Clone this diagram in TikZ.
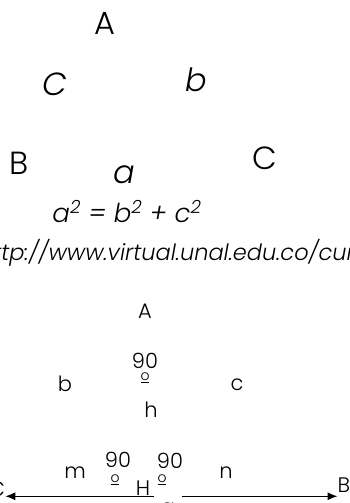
\documentclass[tikz,border=0pt]{standalone}
\usepackage{fontspec}
\setmainfont{Poppins}[UprightFont=* Light, ItalicFont=* Light Italic]
\usetikzlibrary{arrows.meta}
\tikzset{
  big/.style={font=\fontsize{32}{34}\selectfont, inner sep=0pt},
  bigit/.style={font=\fontsize{32}{34}\selectfont\itshape, inner sep=0pt},
  small/.style={font=\fontsize{21}{23}\selectfont, inner sep=0pt},
  grado/.style={font=\fontsize{14}{14}\selectfont, inner sep=0pt},
  arr/.style={-{Latex[length=10pt,width=8pt]}, line width=1.2pt}
}
\newcommand{\grad}{\underline{o}}
\begin{document}
\begin{tikzpicture}[x=1pt,y=-1pt]
\useasboundingbox (0,0) rectangle (349,503);
% triangulo de arriba
\node[big] (At) at (105,23){A};
\node[bigit] (Ct) at (55,84){C};
\node[bigit] (bt) at (196,80){b};
\node[big] (Bt) at (19,163){B};
\node[bigit] (at) at (124,175){a};
\node[big] (Cr) at (265,158){C};
\node[font=\fontsize{26}{28}\selectfont\itshape, inner sep=0pt] (eq) at (127,212){a\textsuperscript{2} = b\textsuperscript{2} + c\textsuperscript{2}};
\node[font=\fontsize{22.5}{26}\selectfont\itshape, inner sep=0pt, anchor=east] (url) at (355,253){http://www.virtual.unal.edu.co/cur};
% triangulo de abajo
\node[small] (Ab) at (145,311){A};
\node[small] (n1) at (145,361){90};
\node[grado] (o1) at (145,378){\grad};
\node[small] (bb) at (65,384){b};
\node[small] (cb) at (237,385){c};
\node[small] (hb) at (151,410){h};
\node[small] (mb) at (75,473){m};
\node[small] (n2) at (118,460){90};
\node[grado] (o2) at (115,480){\grad};
\node[small] (Hb) at (143,488){H};
\node[small] (n3) at (170,461){90};
\node[grado] (o3) at (162,480){\grad};
\node[small] (nb) at (226,473){n};
\node[small] (Cb) at (-3,489){C};
\node[small] (Bb) at (344,485){B};
\node[small, anchor=base, inner xsep=7pt] (ab) at (168,514){a};
\draw[arr] ([yshift=12pt]ab.west) -- ([yshift=12pt]ab.west -| Cb.east);
\draw[arr] ([yshift=12pt]ab.east) -- ([yshift=12pt]ab.east -| Bb.west);
\end{tikzpicture}
\end{document}
